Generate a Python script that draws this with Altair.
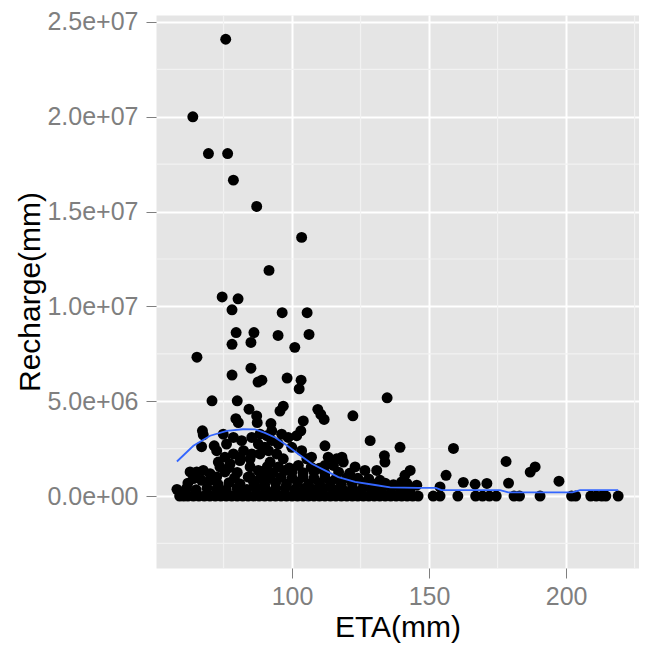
import altair as alt
import pandas as pd

# ---- data ----
# observations whose Recharge is 0
zero_eta = [59, 60.5, 62, 64, 66, 68, 70, 72, 74, 76, 78, 80, 82, 84, 86, 88, 90, 92,
            94, 96, 98, 100, 102, 104, 106, 108, 110, 112, 114, 116, 118, 120, 122,
            124, 126, 128, 130, 132, 134, 136, 138, 140, 142, 144, 146, 151.5, 154,
            160.5, 167, 169.5, 172, 174.5, 181, 183, 190.5, 202, 203.5, 209, 211,
            213, 214.5, 219]

# other observations: ETA (mm) and Recharge (millions of mm)
pt_eta = [
    75.8, 63.8, 69.5, 76.5, 78.6, 87.1, 103.5, 91.6, 74.5, 80.3, 78.1, 96.4, 105.5,
    79.6, 86.1, 94.9, 106.2, 78.1, 85.0, 101.0, 65.3, 85.0, 78.1, 98.2, 87.6, 89.0,
    103.3, 102.6, 70.8, 80.0, 134.7,
    96.8, 95.6, 84.3, 79.5, 80.4, 87.1, 87.3, 92.3, 109.4, 110.5, 111.7, 104.1, 122.2,
    67.3, 67.6, 103.2, 101.7, 128.5, 112.0, 139.4, 71.6, 67.0, 133.7, 133.9, 130.9,
    158.9, 143.1, 141.2, 140.0, 156.2, 145.5, 162.5, 166.8, 171.1, 132.1, 178.1, 179.0,
    186.9, 188.7, 197.4, 154.0, 141.9,
    72.5, 76.1, 78.6, 81.6, 75.5, 78.6, 82.3, 73.1, 77.4, 81.0, 84.7, 88.3, 74.9, 88.3,
    73.7, 84.7, 87.7, 84.7, 88.3, 90.8, 85.3, 87.7, 90.1, 81.0, 85.3, 90.8, 92.6, 95.0,
    91.4, 94.4, 96.8, 92.0, 95.0, 97.4, 105.4, 102.3, 113.2, 116.3, 118.7, 112.0, 115.1,
    126.6, 96.2, 98.6, 99.9, 103.5, 107.1, 118.2, 123.0, 92.6,
    62.8, 65.2, 67.6, 70.1, 72.5, 75.5, 64.0, 67.0, 70.1,
    58, 61.5, 65, 69, 72.5, 76, 80, 83.5, 87, 90.5, 94, 97.5, 101, 104.5, 108, 111.5,
    115, 118.5, 122, 125.5, 129, 132.5, 136, 139.5, 143,
    62, 73, 77, 81, 86, 90, 94, 98, 102, 106, 110, 114, 118, 122, 126, 130, 134, 137,
    79, 84, 92, 96, 100, 104, 108, 112, 116, 120, 124, 128,
    80, 89, 93, 100, 104, 108, 112, 117, 121,
    77, 91, 99, 107, 110,
]
pt_rech = [
    24.09, 20.0, 18.06, 18.06, 16.66, 15.27, 13.64, 11.9, 10.5, 10.4, 9.82, 9.67, 9.67,
    8.62, 8.62, 8.47, 8.52, 8.0, 8.1, 7.84, 7.32, 6.74, 6.38, 6.22, 6.01, 6.11,
    6.11, 5.65, 5.02, 5.02, 5.18,
    4.74, 4.48, 4.58, 4.08, 3.87, 4.22, 3.87, 3.82, 4.57, 4.30, 4.04, 3.96, 4.23,
    3.44, 3.23, 3.44, 3.18, 2.92, 2.65, 2.57, 2.65, 2.60, 2.13, 1.79, 1.35,
    2.51, 1.35, 1.09, 0.74, 1.09, 0.57, 0.72, 0.62, 0.66, 0.83, 1.82, 0.68,
    1.26, 1.53, 0.78, 0.48, 0.66,
    2.39, 2.74, 3.09, 2.92, 2.05, 2.22, 2.39, 1.79, 1.70, 1.87, 1.96, 2.22, 3.26, 3.26,
    1.53, 1.53, 1.35, 1.00, 0.92, 1.09, 3.09, 2.74, 2.57, 2.05, 2.22, 3.18, 2.92, 2.74,
    2.39, 2.22, 1.96, 1.79, 1.53, 1.35, 1.96, 1.61, 2.05, 1.96, 1.79, 1.61, 1.61,
    1.35, 3.26, 3.09, 2.57, 2.39, 2.05, 2.05, 1.53, 3.44,
    1.27, 1.27, 1.35, 1.18, 1.01, 1.27, 0.92, 0.83, 0.83,
    0.35, 0.40, 0.33, 0.41, 0.36, 0.33, 0.40, 0.35, 0.42, 0.33, 0.38, 0.41, 0.34, 0.39,
    0.33, 0.40, 0.36, 0.32, 0.40, 0.35, 0.38, 0.33, 0.41, 0.36, 0.32,
    0.68, 0.62, 0.70, 0.64, 0.72, 0.60, 0.69, 0.63, 0.71, 0.62, 0.67, 0.73, 0.61, 0.66,
    0.70, 0.62, 0.68, 0.60,
    0.95, 1.00, 0.93, 0.99, 0.96, 1.02, 0.94, 0.98, 0.92, 0.97, 0.94, 0.90,
    1.24, 1.28, 1.22, 1.27, 1.23, 1.29, 1.21, 1.26, 1.20,
    1.50, 1.55, 1.48, 1.52, 1.46,
]

# smoothed trend (blue line)
smooth_eta = [58, 64, 70.1, 76.2, 82.1, 86.5, 90.1, 93.8, 97.4, 102.3, 107.2, 112,
              116.9, 123, 130.3, 135.8, 146, 152.5, 154.5, 175.9, 178.9, 202.3,
              205.1, 219]
smooth_rech = [1.82, 2.65, 3.18, 3.44, 3.52, 3.51, 3.33, 3.09, 2.74, 2.22, 1.70, 1.35,
               1.00, 0.74, 0.58, 0.45, 0.43, 0.43, 0.31, 0.31, 0.19, 0.19, 0.31, 0.31]

x_ticks = [100, 150, 200]
x_minor = [75, 125, 175, 225]
y_ticks = [0, 5e6, 1e7, 1.5e7, 2e7, 2.5e7]
y_minor = [-2.5e6, 2.5e6, 7.5e6, 1.25e7, 1.75e7, 2.25e7]
x_domain = [50.36, 226.6]
y_domain = [-3.797e6, 25.369e6]

# ---- tables ----
pts = pd.DataFrame({
    "eta": zero_eta + pt_eta,
    "rech": [0.0] * len(zero_eta) + [v * 1e6 for v in pt_rech],
})
smooth = pd.DataFrame({"eta": smooth_eta, "rech": [v * 1e6 for v in smooth_rech]})
xminor_df = pd.DataFrame({"eta": x_minor})
yminor_df = pd.DataFrame({"rech": y_minor})

FONT = "Liberation Sans"
GREY = "#7F7F7F"
xs = alt.Scale(domain=x_domain, nice=False, zero=False)
ys = alt.Scale(domain=y_domain, nice=False, zero=False)

ylabel = ("datum.value == 0 ? '0.0e+00' : (abs(datum.value) < 1e7 ? "
          "format(datum.value / 1e6, '.1f') + 'e+06' : "
          "format(datum.value / 1e7, '.1f') + 'e+07')")

x_axis = alt.Axis(values=x_ticks, title="ETA(mm)", grid=True, gridColor="white",
                  gridWidth=2, domain=False, tickColor=GREY, tickSize=10,
                  tickWidth=1, labelColor=GREY, labelFont=FONT, labelFontSize=25,
                  labelPadding=6, titleFont=FONT, titleFontSize=30,
                  titleFontWeight="normal", titleColor="black", titleY=68,
                  titleBaseline="alphabetic")
y_axis = alt.Axis(values=y_ticks, title="Recharge(mm)", grid=True, gridColor="white",
                  gridWidth=2, domain=False, tickColor=GREY, tickSize=10,
                  tickWidth=1, labelColor=GREY, labelFont=FONT, labelFontSize=25,
                  labelPadding=8, labelExpr=ylabel, titleFont=FONT,
                  titleFontSize=30, titleFontWeight="normal", titleColor="black",
                  titleX=-116.5, titleBaseline="alphabetic")

xrules = alt.Chart(xminor_df).mark_rule(color="#F2F2F2", strokeWidth=1.2).encode(
    x=alt.X("eta:Q", scale=xs, axis=x_axis))
yrules = alt.Chart(yminor_df).mark_rule(color="#F2F2F2", strokeWidth=1.2).encode(
    y=alt.Y("rech:Q", scale=ys, axis=y_axis))

points = alt.Chart(pts).mark_circle(color="black", opacity=1, size=120).encode(
    x=alt.X("eta:Q", scale=xs),
    y=alt.Y("rech:Q", scale=ys),
)

line = alt.Chart(smooth).mark_line(color="#3366FF", strokeWidth=1.8).encode(
    x=alt.X("eta:Q", scale=xs),
    y=alt.Y("rech:Q", scale=ys),
)

chart = alt.layer(xrules, yrules, points, line).properties(
    width=483, height=553,
    autosize=alt.AutoSizeParams(type="none"),
    padding={"left": 148, "top": 7, "right": 0, "bottom": 75},
    background="white",
).configure_view(fill="#E5E5E5", strokeOpacity=0)

chart.save("out.html", embed_options={"renderer": "svg", "actions": False})
